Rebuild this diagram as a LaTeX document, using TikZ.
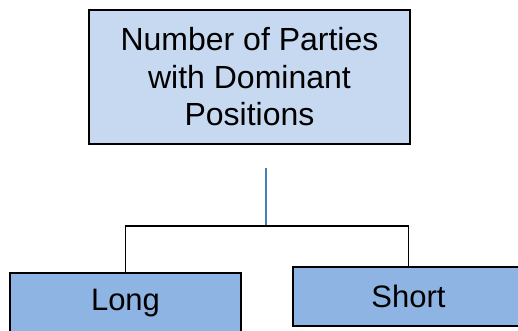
\documentclass[tikz,border=0pt]{standalone}
\usepackage{fontspec}
\setmainfont{Liberation Sans}
\definecolor{paleblue}{HTML}{C6D9F1}
\definecolor{midblue}{HTML}{8EB4E3}
\definecolor{stemblue}{HTML}{4A7EBB}
\begin{document}
\begin{tikzpicture}[x=1pt,y=-1pt,
  box/.style={draw=black,line width=1.5pt,inner sep=0pt,align=center,
    font=\fontsize{31}{36}\selectfont},
  link/.style={draw=black,line width=1.3pt}]
\useasboundingbox (0,0) rectangle (518,331);
% parent box
\node[box,fill=paleblue,minimum width=321pt,minimum height=134pt,
  font=\fontsize{32}{37.5}\selectfont]
  (top) at (249.5,77) {Number of Parties\\with Dominant\\Positions};
% child boxes
\node[box,fill=midblue,minimum width=231pt,minimum height=61pt]
  (long) at (125.5,303.5) {Long};
\node[box,fill=midblue,minimum width=231pt,minimum height=59pt]
  (short) at (408.5,296.5) {Short};
% connectors
\coordinate (stem) at (266,168);
\coordinate (bus) at (266,226);
\draw[stemblue,line width=1.3pt] (stem) -- (bus);
\draw[link] (long.north) -- (long.north |- bus) -- (short.north |- bus) -- (short.north);
\end{tikzpicture}
\end{document}
